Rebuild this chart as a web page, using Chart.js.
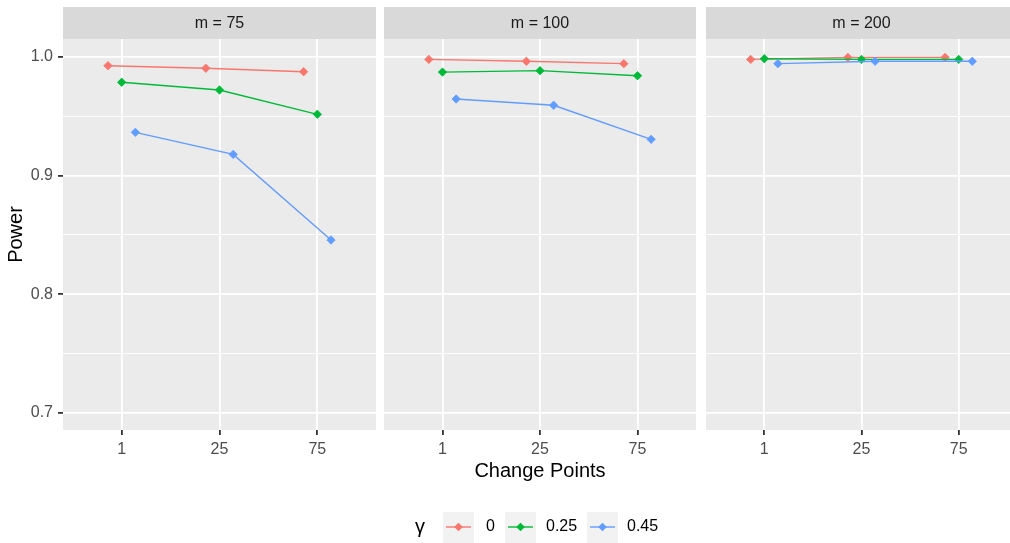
<!DOCTYPE html>
<html>
<head>
<meta charset="utf-8">
<script src="https://cdn.jsdelivr.net/npm/chart.js@4"></script>
<style>
html, body { margin: 0; padding: 0; background: #fff; overflow: hidden; }
#wrap { position: relative; width: 1010px; height: 543px; overflow: hidden; }
canvas { position: absolute; top: 0; left: 0; }
</style>
</head>
<body>
<div id="wrap">
<canvas id="p1" width="1010" height="543"></canvas>
<canvas id="p2" width="1010" height="543"></canvas>
<canvas id="p3" width="1030" height="543"></canvas>
</div>
<script>
// data
const categories = ['1', '25', '75'];
const panelLabels = ['m = 75', 'm = 100', 'm = 200'];
const gammaLabels = ['0', '0.25', '0.45'];
const yMajor = [0.7, 0.8, 0.9, 1.0];
const yMinor = [0.75, 0.85, 0.95];

const m75_g0 = [0.9927, 0.9905, 0.9876];
const m75_g025 = [0.9787, 0.9722, 0.9517];
const m75_g045 = [0.9365, 0.9179, 0.8457];

const m100_g0 = [0.9980, 0.9964, 0.9944];
const m100_g025 = [0.9873, 0.9885, 0.9842];
const m100_g045 = [0.9646, 0.9593, 0.9306];

const m200_g0 = [0.9980, 0.9997, 0.9997];
const m200_g025 = [0.9986, 0.9980, 0.9980];
const m200_g045 = [0.9944, 0.9964, 0.9964];

const colors = ['#F8766D', '#00BA38', '#619CFF'];
const dodge = [-0.14, 0, 0.14];

Chart.defaults.font.family = "'Liberation Sans', Arial, sans-serif";

const isMajor = v => yMajor.some(m => Math.abs(m - v) < 1e-9);

// grey panel + facet strip
const facetPlugin = {
    id: 'facet',
    beforeDraw(chart, args, opts) {
        const a = chart.chartArea;
        const ctx = chart.ctx;
        ctx.save();
        ctx.fillStyle = '#EBEBEB';
        ctx.fillRect(a.left, a.top, a.right - a.left, a.bottom - a.top);
        ctx.fillStyle = '#D9D9D9';
        ctx.fillRect(a.left, 7, a.right - a.left, a.top - 7);
        ctx.fillStyle = '#1A1A1A';
        ctx.font = "16px 'Liberation Sans', Arial, sans-serif";
        ctx.textAlign = 'center';
        ctx.textBaseline = 'middle';
        ctx.fillText(opts.label, (a.left + a.right) / 2, 24);
        ctx.restore();
    }
};

// ggplot style legend under the middle panel
const legendPlugin = {
    id: 'ggLegend',
    afterDraw(chart, args, opts) {
        if (!opts.show) return;
        const ctx = chart.ctx;
        const cy = 527;
        ctx.save();
        ctx.fillStyle = '#000';
        ctx.font = "20px 'Liberation Sans', Arial, sans-serif";
        ctx.textAlign = 'center';
        ctx.textBaseline = 'middle';
        ctx.fillText('γ', 420, cy);
        const keyX = [443, 505, 587];
        const textX = [486, 546, 627];
        gammaLabels.forEach((g, i) => {
            ctx.fillStyle = '#F2F2F2';
            ctx.fillRect(keyX[i], 512, 31, 31);
            ctx.strokeStyle = colors[i];
            ctx.lineWidth = 1.4;
            ctx.beginPath();
            ctx.moveTo(keyX[i] + 3, cy);
            ctx.lineTo(keyX[i] + 28, cy);
            ctx.stroke();
            const cx = keyX[i] + 15.5;
            ctx.fillStyle = colors[i];
            ctx.beginPath();
            ctx.moveTo(cx, cy - 4.3);
            ctx.lineTo(cx + 4.3, cy);
            ctx.lineTo(cx, cy + 4.3);
            ctx.lineTo(cx - 4.3, cy);
            ctx.closePath();
            ctx.fill();
            ctx.fillStyle = '#000';
            ctx.font = "16px 'Liberation Sans', Arial, sans-serif";
            ctx.textAlign = 'left';
            ctx.fillText(g, textX[i], cy);
        });
        ctx.restore();
    }
};

function makePanel(id, idx, series, padL, padR, showY, showTitle, showLegend) {
    const datasets = series.map((vals, s) => ({
        label: gammaLabels[s],
        data: vals.map((v, i) => ({ x: i + 1 + dodge[s], y: v })),
        borderColor: colors[s],
        backgroundColor: colors[s],
        borderWidth: 1.4,
        pointStyle: 'rectRot',
        pointRadius: 4.2,
        pointBorderWidth: 0.8,
        tension: 0,
        order: 3 - s
    }));

    return new Chart(document.getElementById(id), {
        type: 'line',
        data: { datasets: datasets },
        options: {
            responsive: false,
            animation: false,
            layout: { padding: { left: padL, right: padR, top: 39, bottom: 59 } },
            plugins: {
                legend: { display: false },
                tooltip: { enabled: false },
                facet: { label: panelLabels[idx] },
                ggLegend: { show: showLegend }
            },
            scales: {
                x: {
                    type: 'linear',
                    min: 0.4,
                    max: 3.6,
                    afterBuildTicks: s => { s.ticks = categories.map((c, i) => ({ value: i + 1 })); },
                    ticks: {
                        callback: v => categories[Math.round(v) - 1],
                        color: '#4D4D4D',
                        font: { size: 16 },
                        padding: 5,
                        maxRotation: 0,
                        autoSkip: false
                    },
                    grid: { color: '#FFFFFF', lineWidth: 1.8, tickColor: '#333333', tickLength: 5 },
                    border: { display: false },
                    title: {
                        display: showTitle,
                        text: 'Change Points',
                        color: '#000',
                        font: { size: 20 },
                        padding: { top: 0, bottom: 1 }
                    },
                    afterFit: s => { s.height = 54; }
                },
                y: {
                    min: 0.6855,
                    max: 1.0152,
                    afterBuildTicks: s => {
                        s.ticks = yMajor.concat(yMinor).sort((a, b) => a - b).map(v => ({ value: v }));
                    },
                    ticks: {
                        display: showY,
                        callback: v => isMajor(v) ? v.toFixed(1) : '',
                        color: '#4D4D4D',
                        font: { size: 16 },
                        padding: 5
                    },
                    grid: {
                        color: '#FFFFFF',
                        lineWidth: c => isMajor(c.tick.value) ? 1.8 : 0.9,
                        tickColor: c => (showY && isMajor(c.tick.value)) ? '#333333' : 'rgba(0,0,0,0)',
                        tickLength: showY ? 5 : 0,
                        drawTicks: showY
                    },
                    border: { display: false },
                    title: {
                        display: showY,
                        text: 'Power',
                        color: '#000',
                        font: { size: 20 },
                        padding: { top: 4, bottom: 0 }
                    },
                    afterFit: s => { s.width = showY ? 63 : 0; }
                }
            }
        },
        plugins: [facetPlugin, legendPlugin]
    });
}

makePanel('p1', 0, [m75_g0, m75_g025, m75_g045], 0, 634, true, false, false);
makePanel('p2', 1, [m100_g0, m100_g025, m100_g045], 384, 314, false, true, true);
makePanel('p3', 2, [m200_g0, m200_g025, m200_g045], 706, 13, false, false, false);
</script>
</body>
</html>
